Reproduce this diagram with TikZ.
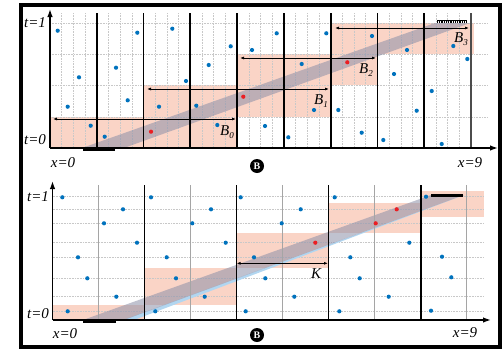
\documentclass[tikz,border=0pt]{standalone}
\usepackage{fontspec}
\setmainfont{Liberation Serif}
\usetikzlibrary{arrows.meta}
\definecolor{salmon}{RGB}{250,212,198}
\definecolor{bandgray}{RGB}{140,143,168}
\definecolor{dotblue}{RGB}{0,114,189}
\definecolor{dotred}{RGB}{235,30,35}
\definecolor{lightblue}{RGB}{178,214,240}
\definecolor{gridgray}{RGB}{200,200,200}
\definecolor{thingray}{RGB}{165,165,165}
\newcommand{\lsub}[2]{#1\raisebox{-3.5pt}{\fontsize{9pt}{9pt}\selectfont #2}}
\begin{document}
\begin{tikzpicture}[x=1pt,y=-1pt,
  gridline/.style={gridgray, densely dotted, line width=0.6pt},
  thickv/.style={black, line width=1.7pt},
  thinv/.style={thingray, line width=0.9pt},
  axisline/.style={black, line width=1.4pt, -{Latex[length=8pt,width=5.5pt]}},
  barrow/.style={black, line width=0.9pt, {Latex[length=4pt,width=3pt]}-{Latex[length=4pt,width=3pt]}},
  lbl/.style={font=\fontsize{15pt}{17pt}\selectfont\itshape, inner sep=0pt},
  circB/.style={circle, fill=black, text=white, inner sep=0pt, minimum size=14pt, font=\bfseries\fontsize{10pt}{12pt}\selectfont},
  segm/.style={black, line width=3pt},
  grayband/.style={fill=bandgray, fill opacity=0.55}
]
\useasboundingbox (0,0) rectangle (502,351);
% ===== frame =====
\draw[line width=4pt] (21,5) rectangle (500,347);
\draw[line width=2pt] (19.5,5) -- (19.5,347);

% ================= TOP PANEL =================
\fill[salmon] (50,117) rectangle (236,148);
\fill[salmon] (143,85) rectangle (331,117);
\fill[salmon] (236,54) rectangle (377,85);
\fill[salmon] (331,23) rectangle (474,54);
\foreach \k in {0,...,8}{
  \foreach \j in {1,2,3}{
    \draw[gridline] ({50+46.78*(\k+\j/4)},13) -- ({50+46.78*(\k+\j/4)},148);
  }
}
\foreach \yy in {23,54,85,117}{
  \draw[gridline] (50,\yy) -- (488,\yy);
}
\fill[grayband] (82,148) -- (124,148) -- (470,23) -- (435,23) -- cycle;
\foreach \k in {1,...,8}{
  \draw[thickv] ({50+46.78*\k},13) -- ({50+46.78*\k},148);
}
\draw[black!70, line width=1.3pt] (471,13) -- (471,148);
\coordinate (o1) at (50,148);
\coordinate (ty1) at (50,9);
\coordinate (tx1) at (498,148);
\draw[axisline] (o1) -- (ty1);
\draw[axisline] (o1) -- (tx1);
\coordinate (s1a) at (83,149.5);
\coordinate (s1b) at (115,149.5);
\draw[segm] (s1a) -- (s1b);
\coordinate (h1a) at (437,20.5);
\coordinate (h1b) at (467,20.5);
\draw[black, line width=1.4pt] (h1a) -- (h1b);
\draw[black, line width=2.2pt, dash pattern=on 0.9pt off 0.9pt] ([yshift=-1.8pt]h1a) -- ([yshift=-1.8pt]h1b);
\coordinate (b0a) at (53,119); \coordinate (b0b) at (236,119);
\coordinate (b1a) at (147,89);  \coordinate (b1b) at (329,89);
\coordinate (b2a) at (240,58);  \coordinate (b2b) at (376,58);
\coordinate (b3a) at (335,28);  \coordinate (b3b) at (469,28);
\draw[barrow] (b0a) -- (b0b);
\draw[barrow] (b1a) -- (b1b);
\draw[barrow] (b2a) -- (b2b);
\draw[barrow] (b3a) -- (b3b);
\foreach \px/\py in {57.7/30.7, 67.7/106.7, 79/77.3, 90.7/125.7, 104.7/136.7, 116/67.7, 127.7/100.3, 137.3/32.7, 159/106.7, 172.3/28.7, 186/81, 196.3/105.7, 208.7/65, 217.3/125, 230.7/46.3, 252/50, 276.7/33.3, 265/126, 288.3/137.3, 301.7/64, 314/110, 326.3/33.3, 338.3/110, 361.7/132.7, 372/36, 383.3/140, 394/74, 407/50, 416.7/110.7, 431.7/91, 441.7/144, 453.3/46, 467.3/59}{
  \fill[dotblue] (\px,\py) circle[radius=2.1pt];
}
\foreach \px/\py in {151/131.7, 243.3/96.7, 347.3/62.3}{
  \fill[dotred] (\px,\py) circle[radius=2.1pt];
}
\node[lbl] (t1a) at (35,23) {t=1};
\node[lbl] (t0a) at (35,140) {t=0};
\node[lbl] (x0a) at (63,163) {x=0};
\node[lbl] (x9a) at (470,163) {x=9};
\node[lbl] (lB0) at (227,132) {\lsub{B}{0}};
\node[lbl] (lB1) at (321,101) {\lsub{B}{1}};
\node[lbl] (lB2) at (366,70) {\lsub{B}{2}};
\node[lbl] (lB3) at (461,39) {\lsub{B}{3}};
\node[circB] (cB1) at (257,166) {B};

% ================= BOTTOM PANEL =================
\fill[salmon] (53,305) rectangle (144.5,320);
\fill[salmon] (144.5,267.5) rectangle (236.6,305);
\fill[salmon] (236.6,232.5) rectangle (328.6,267.5);
\fill[salmon] (328.6,203) rectangle (420.7,232.5);
\fill[salmon] (420.7,190.5) rectangle (484,216.5);
\foreach \yy in {196.7,209.3,223.3,242.7,257.3,278.3,296.7,311}{
  \draw[gridline] (52.5,\yy) -- (484,\yy);
}
\fill[lightblue] (123,320) -- (134,320) -- (464,195) -- cycle;
\fill[grayband] (83,320) -- (124,320) -- (464,195) -- (431,195) -- cycle;
\foreach \k in {1,3,5,7,9}{
  \draw[thinv] ({52.5+46.02*\k},185) -- ({52.5+46.02*\k},320);
}
\foreach \k in {2,4,6,8}{
  \draw[thickv] ({52.5+46.02*\k},185) -- ({52.5+46.02*\k},320);
}
\coordinate (o2) at (52.5,320);
\coordinate (ty2) at (52.5,181);
\coordinate (tx2) at (491,320);
\draw[axisline] (o2) -- (ty2);
\draw[axisline] (o2) -- (tx2);
\coordinate (s2a) at (83,321.5);
\coordinate (s2b) at (116,321.5);
\draw[segm] (s2a) -- (s2b);
\coordinate (s3a) at (431,195);
\coordinate (s3b) at (463,195);
\draw[segm] (s3a) -- (s3b);
\coordinate (ka) at (236.6,263.3);
\coordinate (kb) at (328,263.3);
\draw[barrow] (ka) -- (kb);
\foreach \px/\py in {62.3/197.3, 67.7/311.3, 78/257.3, 87.3/278.3, 104/223.3, 116.3/296.7, 123/209.3, 137/242.7, 151/197.3, 155.3/311.3, 166.7/257.3, 176/278.3, 192.3/223.3, 204.7/296.7, 211/209.3, 225.7/242.7, 240.7/197.3, 245.7/311.3, 254/257.3, 265.3/278.3, 281.7/223.3, 294.3/296.7, 300.7/209.3, 334.7/197.3, 339.3/311.3, 350.3/257.3, 359.7/278.3, 388.7/296.7, 409.3/242.7, 426/196.7, 431/310.7, 442/256.7, 451.3/277.3}{
  \fill[dotblue] (\px,\py) circle[radius=2.1pt];
}
\foreach \px/\py in {315.3/242.7, 375.7/223.3, 396.7/209.3}{
  \fill[dotred] (\px,\py) circle[radius=2.1pt];
}
\node[lbl] (t1b) at (38,197) {t=1};
\node[lbl] (t0b) at (38,314) {t=0};
\node[lbl] (x0b) at (65,334) {x=0};
\node[lbl] (x9b) at (465,333) {x=9};
\node[lbl] (lK) at (316,274) {K};
\node[circB] (cB2) at (257,335) {B};
\end{tikzpicture}
\end{document}
